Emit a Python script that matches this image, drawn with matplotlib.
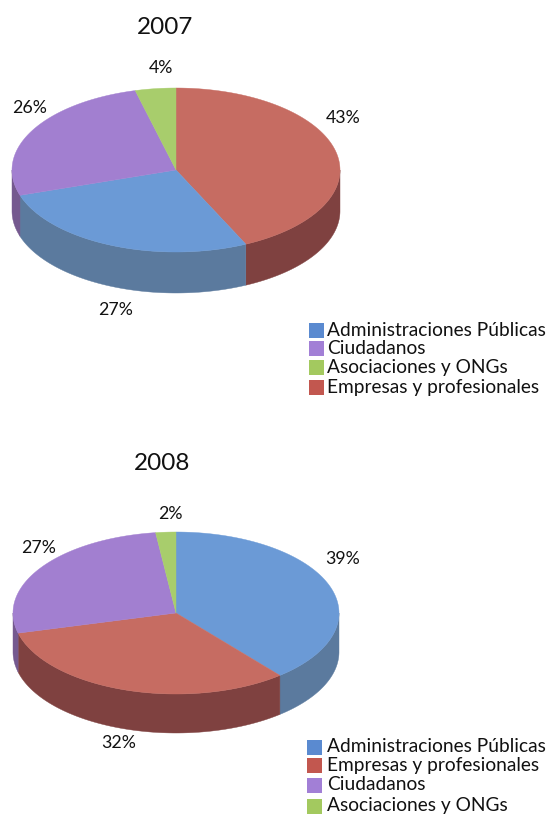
import numpy as np
import matplotlib
matplotlib.use("Agg")
import matplotlib.pyplot as plt
from matplotlib.patches import Rectangle

plt.rcParams["font.family"] = ["Lato", "DejaVu Sans"]

# values clockwise from 12 o'clock, as in the picture
labels_2007 = ["Empresas y profesionales", "Administraciones Públicas", "Ciudadanos", "Asociaciones y ONGs"]
values_2007 = [43, 27, 26, 4]
legend_2007 = ["Administraciones Públicas", "Ciudadanos", "Asociaciones y ONGs", "Empresas y profesionales"]

labels_2008 = ["Administraciones Públicas", "Empresas y profesionales", "Ciudadanos", "Asociaciones y ONGs"]
values_2008 = [39, 32, 27, 2]
legend_2008 = ["Administraciones Públicas", "Empresas y profesionales", "Ciudadanos", "Asociaciones y ONGs"]

top_colors = {
    "Administraciones Públicas": "#6b9ad6",
    "Empresas y profesionales": "#c66c62",
    "Ciudadanos": "#a27fd0",
    "Asociaciones y ONGs": "#a8cd6c",
}
side_colors = {
    "Administraciones Públicas": "#5b7a9e",
    "Empresas y profesionales": "#7f4140",
    "Ciudadanos": "#75598f",
    "Asociaciones y ONGs": "#7c9550",
}
legend_colors = {
    "Administraciones Públicas": "#5a8ad0",
    "Empresas y profesionales": "#c2574f",
    "Ciudadanos": "#a27fd6",
    "Asociaciones y ONGs": "#a3c95f",
}

fig = plt.figure(figsize=(5.49, 8.18), dpi=100)
ax = fig.add_axes([0, 0, 1, 1])
ax.set_xlim(0, 549)
ax.set_ylim(818, 0)
ax.axis("off")


def draw_pie(cx, cy, rx, ry, depth, labels, values):
    # angle t runs clockwise from the top of the ellipse
    edges = np.cumsum([0] + list(values)) / sum(values) * 2 * np.pi
    for i, name in enumerate(labels):
        # side wall, only the front half (t between 90 and 270 degrees) shows
        a = max(edges[i], np.pi / 2)
        b = min(edges[i + 1], 3 * np.pi / 2)
        if b > a:
            t = np.linspace(a, b, 100)
            x = cx + rx * np.sin(t)
            y = cy - ry * np.cos(t)
            ax.fill(np.r_[x, x[::-1]], np.r_[y, y[::-1] + depth],
                    color=side_colors[name], lw=0.3)
    for i, name in enumerate(labels):
        t = np.linspace(edges[i], edges[i + 1], 200)
        x = np.r_[cx, cx + rx * np.sin(t)]
        y = np.r_[cy, cy - ry * np.cos(t)]
        ax.fill(x, y, color=top_colors[name], lw=0.3)


def draw_legend(x, text_x, ys, names):
    for y, name in zip(ys, names):
        ax.add_patch(Rectangle((x, y - 7.5), 15, 15, color=legend_colors[name], lw=0))
        ax.text(text_x, y, name, fontsize=13.8, va="center", ha="left", color="#111111")


draw_pie(176, 170, 164, 82, 41, labels_2007, values_2007)
draw_pie(176, 613, 163, 81, 39, labels_2008, values_2008)

ax.text(165, 28, "2007", fontsize=17.5, ha="center", va="center", color="#111111")
ax.text(162, 463, "2008", fontsize=17.5, ha="center", va="center", color="#111111")

# percent labels next to the slices
pct_2007 = [(343, 118, values_2007[0]), (116, 310, values_2007[1]), (30, 108, values_2007[2]), (161, 68, values_2007[3])]
pct_2008 = [(343, 559, values_2008[0]), (119, 743, values_2008[1]), (39, 548, values_2008[2]), (170, 514, values_2008[3])]
for x, y, v in pct_2007 + pct_2008:
    ax.text(x, y, f"{v}%", fontsize=12.8, ha="center", va="center", color="#111111")

draw_legend(309, 327, [330, 348, 367, 387], legend_2007)
draw_legend(307, 327, [747, 765, 785, 806], legend_2008)

fig.savefig("out.png", dpi=100)
